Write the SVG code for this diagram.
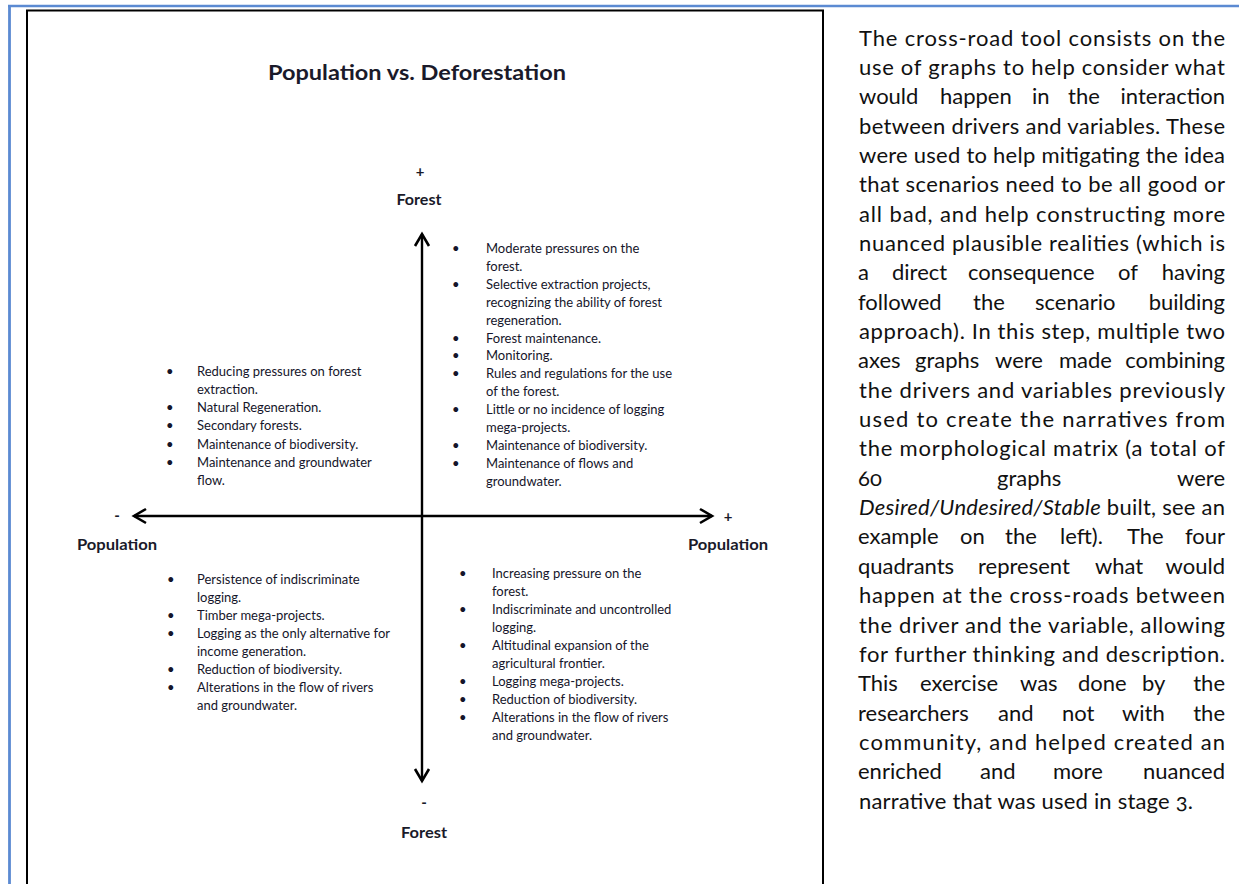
<svg xmlns="http://www.w3.org/2000/svg" width="1239" height="884" viewBox="0 0 1239 884">
<style>
.t{font-family:Lato,"Liberation Sans",sans-serif;font-size:13px;fill:#15152a}
.b{font-family:Lato,"Liberation Sans",sans-serif;font-weight:bold;fill:#1a1a2a}
.p{font-family:Lato,"Open Sans","Liberation Sans",sans-serif;font-size:22px;fill:#111;font-variant-numeric:oldstyle-nums}
.e{text-anchor:end}
.m{text-anchor:middle}
.ax{stroke:#000;stroke-width:2.4;fill:none}
</style>
<defs>
<marker id="chev" viewBox="-15 -10 18 20" refX="0" refY="0" markerWidth="18" markerHeight="20" markerUnits="userSpaceOnUse" orient="auto-start-reverse">
<path d="M-12,-7 L0,0 L-12,7" fill="none" stroke="#000" stroke-width="2.6" stroke-linejoin="miter"/>
</marker>
</defs>
<rect width="1239" height="884" fill="#fff"/>
<g id="page-border">
<line x1="8" y1="6" x2="1239" y2="6" stroke="#5b8ad2" stroke-width="2.6"/>
<line x1="9.5" y1="5" x2="9.5" y2="884" stroke="#5b8ad2" stroke-width="2.8"/>
</g>
<g id="figure-frame">
<polyline points="27,884 27,10.5 823,10.5 823,884" fill="none" stroke="#000" stroke-width="2"/>
</g>
<g id="title">
<text class="b m" x="417" y="80" font-size="20" textLength="298" lengthAdjust="spacingAndGlyphs">Population vs. Deforestation</text>
</g>
<g id="connectors">
<line class="ax" x1="422" y1="781" x2="422" y2="234" marker-end="url(#chev)" marker-start="url(#chev)"/>
<line class="ax" x1="134" y1="516" x2="712" y2="516" marker-end="url(#chev)" marker-start="url(#chev)"/>
</g>
<g id="axis-forest-plus">
<text class="b m" x="420" y="177" font-size="15">+</text>
<text class="b m" x="419" y="205" font-size="14.5" textLength="45" lengthAdjust="spacingAndGlyphs">Forest</text>
</g>
<g id="axis-forest-minus">
<text class="b m" x="424" y="808" font-size="15">-</text>
<text class="b m" x="424" y="838" font-size="14.5" textLength="46" lengthAdjust="spacingAndGlyphs">Forest</text>
</g>
<g id="axis-population-minus">
<text class="b m" x="117" y="521" font-size="15">-</text>
<text class="b m" x="117" y="550" font-size="14.5" textLength="80" lengthAdjust="spacingAndGlyphs">Population</text>
</g>
<g id="axis-population-plus">
<text class="b m" x="728" y="522" font-size="15">+</text>
<text class="b m" x="728" y="550" font-size="14.5" textLength="80" lengthAdjust="spacingAndGlyphs">Population</text>
</g>
<g id="quadrant-top-right" class="t">
<text x="452" y="253">•</text><text x="486" y="253">Moderate pressures on the</text>
<text x="486" y="270.9">forest.</text>
<text x="452" y="288.8">•</text><text x="486" y="288.8">Selective extraction projects,</text>
<text x="486" y="306.7">recognizing the ability of forest</text>
<text x="486" y="324.6">regeneration.</text>
<text x="452" y="342.5">•</text><text x="486" y="342.5">Forest maintenance.</text>
<text x="452" y="360.4">•</text><text x="486" y="360.4">Monitoring.</text>
<text x="452" y="378.3">•</text><text x="486" y="378.3">Rules and regulations for the use</text>
<text x="486" y="396.2">of the forest.</text>
<text x="452" y="414.1">•</text><text x="486" y="414.1">Little or no incidence of logging</text>
<text x="486" y="432">mega-projects.</text>
<text x="452" y="449.9">•</text><text x="486" y="449.9">Maintenance of biodiversity.</text>
<text x="452" y="467.8">•</text><text x="486" y="467.8">Maintenance of flows and</text>
<text x="486" y="485.7">groundwater.</text>
</g>
<g id="quadrant-top-left" class="t">
<text x="166" y="375.5">•</text><text x="197" y="375.5">Reducing pressures on forest</text>
<text x="197" y="393.8">extraction.</text>
<text x="166" y="412.1">•</text><text x="197" y="412.1">Natural Regeneration.</text>
<text x="166" y="430.4">•</text><text x="197" y="430.4">Secondary forests.</text>
<text x="166" y="448.7">•</text><text x="197" y="448.7">Maintenance of biodiversity.</text>
<text x="166" y="467">•</text><text x="197" y="467">Maintenance and groundwater</text>
<text x="197" y="485.3">flow.</text>
</g>
<g id="quadrant-bottom-left" class="t">
<text x="167" y="583.5">•</text><text x="197" y="583.5">Persistence of indiscriminate</text>
<text x="197" y="601.6">logging.</text>
<text x="167" y="619.7">•</text><text x="197" y="619.7">Timber mega-projects.</text>
<text x="167" y="637.8">•</text><text x="197" y="637.8">Logging as the only alternative for</text>
<text x="197" y="655.9">income generation.</text>
<text x="167" y="674">•</text><text x="197" y="674">Reduction of biodiversity.</text>
<text x="167" y="692.1">•</text><text x="197" y="692.1">Alterations in the flow of rivers</text>
<text x="197" y="710.2">and groundwater.</text>
</g>
<g id="quadrant-bottom-right" class="t">
<text x="459" y="577.5">•</text><text x="492" y="577.5">Increasing pressure on the</text>
<text x="492" y="595.6">forest.</text>
<text x="459" y="613.7">•</text><text x="492" y="613.7">Indiscriminate and uncontrolled</text>
<text x="492" y="631.8">logging.</text>
<text x="459" y="649.9">•</text><text x="492" y="649.9">Altitudinal expansion of the</text>
<text x="492" y="668">agricultural frontier.</text>
<text x="459" y="686.1">•</text><text x="492" y="686.1">Logging mega-projects.</text>
<text x="459" y="704.2">•</text><text x="492" y="704.2">Reduction of biodiversity.</text>
<text x="459" y="722.3">•</text><text x="492" y="722.3">Alterations in the flow of rivers</text>
<text x="492" y="740.4">and groundwater.</text>
</g>
<g id="description" class="p">
<text x="859" y="45.5" textLength="366" lengthAdjust="spacing">The cross-road tool consists on the</text>
<text x="859" y="74.85" textLength="366" lengthAdjust="spacing">use of graphs to help consider what</text>
<text y="104.2"><tspan x="859">would</tspan><tspan x="940">happen</tspan><tspan x="1032">in</tspan><tspan x="1068">the</tspan></text><text class="e" x="1225" y="104.2">interaction</text>
<text x="859" y="133.55" textLength="366" lengthAdjust="spacing">between drivers and variables. These</text>
<text x="859" y="162.9" textLength="366" lengthAdjust="spacing">were used to help mitigating the idea</text>
<text x="859" y="192.25" textLength="366" lengthAdjust="spacing">that scenarios need to be all good or</text>
<text x="859" y="221.6" textLength="366" lengthAdjust="spacing">all bad, and help constructing more</text>
<text x="859" y="250.95" textLength="366" lengthAdjust="spacing">nuanced plausible realities (which is</text>
<text y="280.3"><tspan x="858">a</tspan><tspan x="892">direct</tspan><tspan x="968">consequence</tspan><tspan x="1118">of</tspan></text><text class="e" x="1225" y="280.3">having</text>
<text y="309.65"><tspan x="858">followed</tspan><tspan x="973">the</tspan><tspan x="1035">scenario</tspan></text><text class="e" x="1225" y="309.65">building</text>
<text x="859" y="339" textLength="366" lengthAdjust="spacing">approach). In this step, multiple two</text>
<text y="368.35"><tspan x="858">axes</tspan><tspan x="915">graphs</tspan><tspan x="995">were</tspan><tspan x="1059">made</tspan></text><text class="e" x="1225" y="368.35">combining</text>
<text x="859" y="397.7" textLength="366" lengthAdjust="spacing">the drivers and variables previously</text>
<text x="859" y="427.05" textLength="366" lengthAdjust="spacing">used to create the narratives from</text>
<text x="859" y="456.4" textLength="366" lengthAdjust="spacing">the morphological matrix (a total of</text>
<text y="485.75"><tspan x="858">60</tspan><tspan x="997">graphs</tspan></text><text class="e" x="1225" y="485.75">were</text>
<text x="859" y="515.1" textLength="366" lengthAdjust="spacing"><tspan font-style="italic">Desired/Undesired/Stable</tspan> built, see an</text>
<text y="544.45"><tspan x="858">example</tspan><tspan x="960">on</tspan><tspan x="1005">the</tspan><tspan x="1060">left).</tspan><tspan x="1127">The</tspan></text><text class="e" x="1225" y="544.45">four</text>
<text y="573.8"><tspan x="858">quadrants</tspan><tspan x="978">represent</tspan><tspan x="1095">what</tspan></text><text class="e" x="1225" y="573.8">would</text>
<text x="859" y="603.15" textLength="366" lengthAdjust="spacing">happen at the cross-roads between</text>
<text x="859" y="632.5" textLength="366" lengthAdjust="spacing">the driver and the variable, allowing</text>
<text x="859" y="661.85" textLength="366" lengthAdjust="spacing">for further thinking and description.</text>
<text y="691.2"><tspan x="858">This</tspan><tspan x="920">exercise</tspan><tspan x="1020">was</tspan><tspan x="1078">done</tspan><tspan x="1142">by</tspan></text><text class="e" x="1225" y="691.2">the</text>
<text y="720.55"><tspan x="858">researchers</tspan><tspan x="998">and</tspan><tspan x="1062">not</tspan><tspan x="1122">with</tspan></text><text class="e" x="1225" y="720.55">the</text>
<text x="859" y="749.9" textLength="366" lengthAdjust="spacing">community, and helped created an</text>
<text y="779.25"><tspan x="858">enriched</tspan><tspan x="980">and</tspan><tspan x="1053">more</tspan></text><text class="e" x="1225" y="779.25">nuanced</text>
<text x="859" y="808.6" textLength="334" lengthAdjust="spacing">narrative that was used in stage 3.</text>
</g>
</svg>
